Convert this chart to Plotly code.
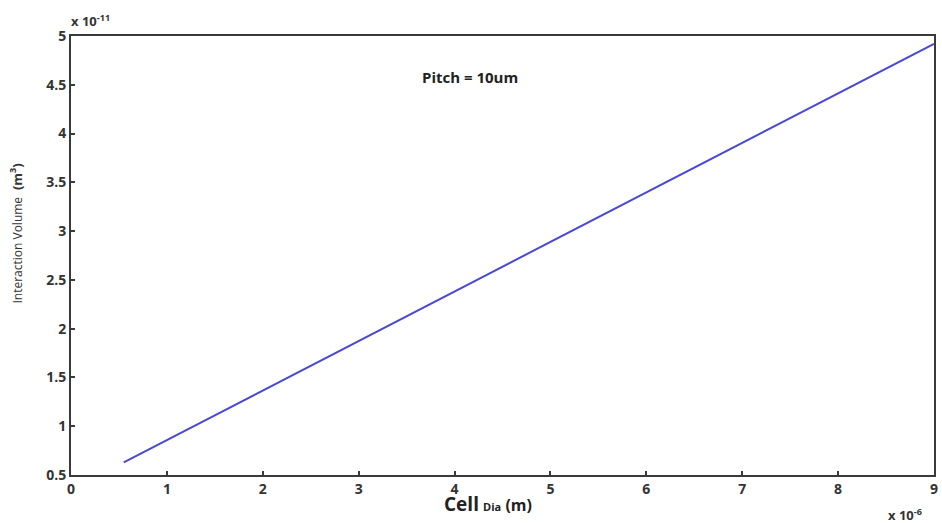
import plotly.graph_objects as go

# Data (x in units of 1e-6 m, y in units of 1e-11 m^3)
cell_dia = [0.55, 9.0]
interaction_volume = [0.63, 4.92]
x_ticks = [0, 1, 2, 3, 4, 5, 6, 7, 8, 9]
y_ticks = [0.5, 1, 1.5, 2, 2.5, 3, 3.5, 4, 4.5, 5]
y_tick_labels = ["0.5", "1", "1.5", "2", "2.5", "3", "3.5", "4", "4.5", "5"]

fig = go.Figure()
fig.add_trace(go.Scatter(x=cell_dia, y=interaction_volume, mode="lines",
                         line=dict(color="#4848d0", width=2), showlegend=False))

tickfont = dict(family="Open Sans", size=14, color="#333333", weight="bold")
axis_common = dict(showgrid=False, zeroline=False, showline=True, linecolor="#3a3a3a",
                   linewidth=2, mirror=True, ticks="inside", ticklen=4, tickwidth=1.5,
                   tickcolor="#3a3a3a", tickfont=tickfont)

fig.update_xaxes(range=[0, 9], tickvals=x_ticks, **axis_common)
fig.update_yaxes(range=[0.5, 5], tickvals=y_ticks, ticktext=y_tick_labels, **axis_common)

fig.update_layout(
    width=942, height=523,
    margin=dict(l=71, r=4, t=36, b=48),
    paper_bgcolor="white", plot_bgcolor="white",
    annotations=[
        dict(text="<b>Pitch = 10um</b>", xref="paper", yref="paper", x=0.462, y=0.907,
             yanchor="middle", showarrow=False,
             font=dict(family="Open Sans", size=15, color="#222222")),
        dict(text="<b>x 10<sup>-11</sup></b>", xref="paper", yref="paper", x=0, y=1,
             xanchor="left", yanchor="bottom", xshift=-2, yshift=4, showarrow=False,
             font=dict(family="Open Sans", size=13, color="#333333")),
        dict(text="<b>x 10<sup>-6</sup></b>", xref="paper", yref="paper", x=1, y=0,
             xanchor="right", yanchor="top", xshift=-10, yshift=-28, showarrow=False,
             font=dict(family="Open Sans", size=13, color="#333333")),
        dict(text="<b><span style='font-size:19px'>Cell</span></b> "
                  "<b><span style='font-size:11px'>Dia</span></b> <b>(m)</b>",
             xref="paper", yref="paper", x=0.483, y=0, yanchor="top", yshift=-14,
             showarrow=False, font=dict(family="Open Sans", size=16, color="#222222")),
        dict(text="<span style='font-size:12px'>Interaction Volume</span>"
                  "  <b>(m<sup>3</sup>)</b>",
             xref="paper", yref="paper", x=0, y=0.55, xanchor="center", yanchor="middle",
             xshift=-55, textangle=-90, showarrow=False,
             font=dict(family="Open Sans", size=13, color="#333333")),
    ],
)

fig.write_html("out.html", config={"displayModeBar": False},
               post_script="document.body.style.margin='0';")
